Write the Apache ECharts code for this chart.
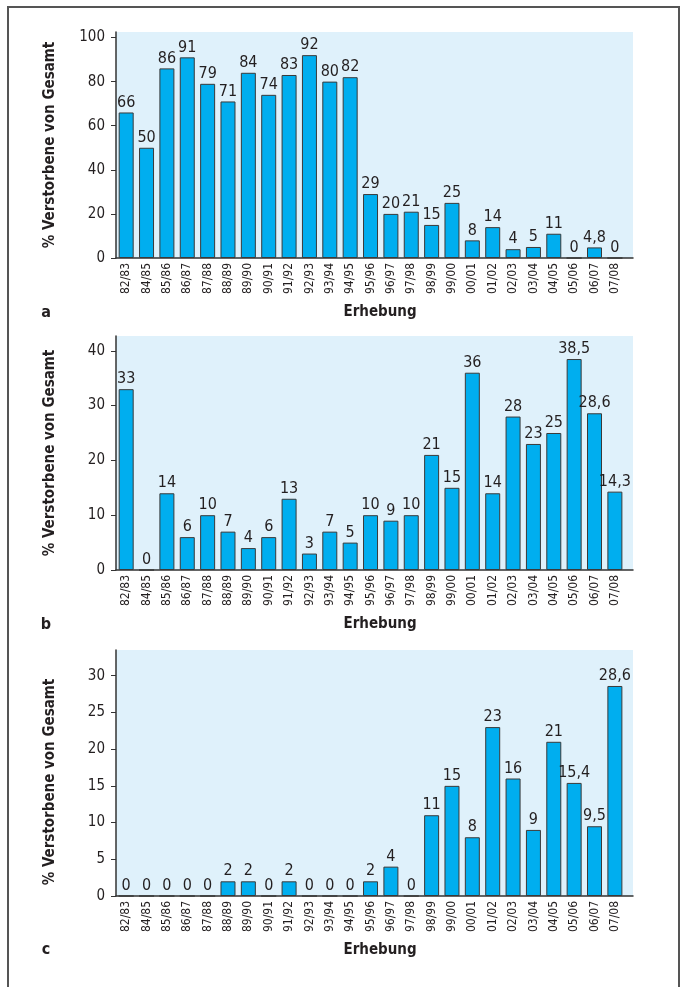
<!DOCTYPE html>
<html>
<head>
<meta charset="utf-8">
<style>
html,body{margin:0;padding:0;background:#fff;}
#chart{width:686px;height:987px;}
</style>
<script src="https://cdn.jsdelivr.net/npm/echarts@6/dist/echarts.min.js"></script>
</head>
<body>
<div id="chart"></div>
<script>
const categories = ['82/83','84/85','85/86','86/87','87/88','88/89','89/90','90/91','91/92','92/93','93/94','94/95','95/96','96/97','97/98','98/99','99/00','00/01','01/02','02/03','03/04','04/05','05/06','06/07','07/08'];
const valuesA = [66,50,86,91,79,71,84,74,83,92,80,82,29,20,21,15,25,8,14,4,5,11,0,4.8,0];
const valuesB = [33,0,14,6,10,7,4,6,13,3,7,5,10,9,10,21,15,36,14,28,23,25,38.5,28.6,14.3];
const valuesC = [0,0,0,0,0,2,2,0,2,0,0,0,2,4,0,11,15,8,23,16,9,21,15.4,9.5,28.6];
const ticksA = [0,20,40,60,80,100];
const ticksB = [0,10,20,30,40];
const ticksC = [0,5,10,15,20,25,30];
const panelLetters = ['a','b','c'];
const yName = '% Verstorbene von Gesamt';
const xName = 'Erhebung';

const FONT = '"DejaVu Sans Condensed","DejaVu Sans",sans-serif';
const TXT = '#231f20';
const AX = '#333333';

const panels = [
  {vals: valuesA, ticks: ticksA, top: 32, height: 226, max: 102.5, nameShift: 0},
  {vals: valuesB, ticks: ticksB, top: 336, height: 234, max: 42.7, nameShift: 0},
  {vals: valuesC, ticks: ticksC, top: 650, height: 246, max: 33.5, nameShift: 18}
];
const idx = categories.map((c, i) => i);

const grids = [], xAxes = [], yAxes = [], series = [], graphics = [];
panels.forEach((p, k) => {
  grids.push({left: 116, width: 517, top: p.top, height: p.height, show: true,
    backgroundColor: '#dff1fb', borderWidth: 0, containLabel: false, outerBoundsMode: 'none'});
  xAxes.push({type: 'value', gridIndex: k, min: -0.5, max: 24.89,
    axisLine: {show: true, onZero: false, lineStyle: {color: AX, width: 1.5}},
    axisTick: {show: false}, splitLine: {show: false},
    axisLabel: {customValues: idx, rotate: 90, margin: 5, color: TXT,
      fontFamily: FONT, fontSize: 12, formatter: v => categories[v]},
    name: xName, nameLocation: 'middle', nameGap: 47,
    nameTextStyle: {fontFamily: FONT, fontWeight: 'bold', fontSize: 15, color: TXT, padding: [0,0,0,11]}
  });
  yAxes.push({type: 'value', gridIndex: k, min: 0, max: p.max,
    axisLine: {show: true, onZero: false, lineStyle: {color: AX, width: 1.5}},
    axisTick: {show: true, customValues: p.ticks, length: 5, lineStyle: {color: AX, width: 1}},
    splitLine: {show: false},
    axisLabel: {customValues: p.ticks, margin: 11, color: TXT, fontFamily: FONT, fontSize: 15},
    name: yName, nameLocation: 'middle', nameGap: 58,
    nameTextStyle: {fontFamily: FONT, fontWeight: 'bold', fontSize: 15, color: TXT,
      padding: [0, p.nameShift, 0, 0]}
  });
  series.push({type: 'bar', xAxisIndex: k, yAxisIndex: k, barWidth: 15,
    data: p.vals.map((v, i) => [i, v]),
    itemStyle: {color: '#00aeef', borderColor: '#3a3a3a', borderWidth: 1},
    label: {show: true, position: 'top', distance: 2, fontFamily: FONT, fontSize: 16, color: TXT,
      formatter: prm => String(prm.value[1]).replace('.', ',')},
    emphasis: {disabled: true}, animation: false
  });
});

const letterY = [313, 625, 950];
panelLetters.forEach((l, k) => {
  graphics.push({type: 'text', x: 46, y: letterY[k],
    style: {text: l, font: 'bold 16px ' + FONT, fill: TXT, textAlign: 'center', textVerticalAlign: 'middle'}});
});
graphics.push({type: 'polyline', shape: {points: [[8, 987], [8, 7], [679, 7], [679, 987]]},
  style: {stroke: '#555', lineWidth: 2, fill: null}});

const chart = echarts.init(document.getElementById('chart'), null, {renderer: 'canvas'});
chart.setOption({
  animation: false,
  backgroundColor: '#fff',
  grid: grids, xAxis: xAxes, yAxis: yAxes, series: series, graphic: graphics
});
</script>
</body>
</html>
